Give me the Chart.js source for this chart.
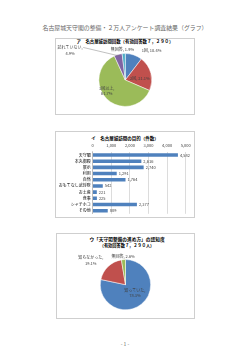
<!DOCTYPE html>
<html>
<head>
<meta charset="utf-8">
<script src="https://cdn.jsdelivr.net/npm/chart.js@4.4.0/dist/chart.umd.min.js"></script>
<style>
  body { margin: 0; background: #fff; }
  #page { position: relative; width: 250px; height: 353px; overflow: hidden; font-family: "Noto Sans CJK JP", sans-serif; }
  .box { position: absolute; border: 1px solid #cfcfcf; box-sizing: border-box; }
  canvas { position: absolute; }
  /* text is set at 10px and scaled down, the browser will not draw fonts under 6px */
  .t { position: absolute; white-space: nowrap; font-size: 10px; line-height: 1; color: #000; }
</style>
</head>
<body>
<div id="page">
  <div class="t" style="left:125px;top:28px;color:#666;transform:translate(-50%,-50%) scale(0.59)">名古屋城天守閣の整備・２万人アンケート調査結果（グラフ）</div>

  <div class="box" style="left:55px;top:38px;width:140px;height:77px"></div>
  <div class="t" style="left:125px;top:41px;font-weight:bold;transform:translate(-50%,-50%) scale(0.44)">ア　名古屋城訪問回数（有効回答数７，２９０）</div>
  <canvas id="visits" width="140" height="77" style="left:55px;top:38px"></canvas>

  <div class="box" style="left:55px;top:131px;width:140px;height:87px"></div>
  <div class="t" style="left:125px;top:137.5px;font-weight:bold;transform:translate(-50%,-50%) scale(0.45)">イ　名古屋城訪問の目的（件数）</div>
  <canvas id="purpose" width="140" height="87" style="left:55px;top:131px"></canvas>

  <div class="box" style="left:56px;top:233px;width:139px;height:86px"></div>
  <div class="t" style="left:127px;top:239px;font-weight:bold;transform:translate(-50%,-50%) scale(0.47)">ウ「天守閣整備の進め方」の認知度</div>
  <div class="t" style="left:127px;top:245px;font-weight:bold;transform:translate(-50%,-50%) scale(0.42)">（有効回答数７，２９０人）</div>
  <canvas id="aware" width="139" height="86" style="left:56px;top:233px"></canvas>

  <div class="t" style="left:125px;top:344px;color:#666;transform:translate(-50%,-50%) scale(0.5)">- 1 -</div>
</div>

<script>
// ア 訪問回数 (%)
const visitLabels = ['1回', '2回', '3回以上', '訪れていない', '無回答'];
const visitShares = [10.4, 21.1, 61.7, 4.9, 1.9];

// イ 訪問の目的 (件数)
const purposeLabels = ['天守閣', '本丸御殿', '展示', '利用', '自然', 'おもてなし武将隊', 'お土産', '食事', 'シャチホコ', 'その他'];
const purposeCounts = [4582, 2616, 2740, 1291, 1764, 542, 221, 225, 2377, 809];
const purposeTicks = [0, 1000, 2000, 3000, 4000, 5000];

// ウ 認知度 (%)
const awareLabels = ['知っていた', '知らなかった', '無回答'];
const awareShares = [78.3, 19.1, 2.6];

const JP = "'Noto Sans CJK JP', sans-serif";
const textColor = '#404040';

// small canvas text: draw at 10px and scale, returns drawn width
function tinyText(ctx, s, x, y, size, align, color) {
  const k = size / 10;
  ctx.save();
  ctx.translate(x, y);
  ctx.scale(k, k);
  ctx.font = '10px ' + JP;
  ctx.fillStyle = color || textColor;
  ctx.textAlign = align || 'center';
  ctx.textBaseline = 'middle';
  ctx.fillText(s, 0, 0);
  const w = ctx.measureText(s).width * k;
  ctx.restore();
  return w;
}

// pie labels drawn next to each slice (f = fraction of radius along mid angle)
const pieLabels = {
  id: 'pieLabels',
  afterDatasetsDraw(chart, args, opts) {
    const ctx = chart.ctx;
    const meta = chart.getDatasetMeta(0);
    const labels = chart.data.labels;
    const data = chart.data.datasets[0].data;
    meta.data.forEach((arc, i) => {
      const p = opts.place[i];
      const a = (arc.startAngle + arc.endAngle) / 2;
      const x = arc.x + Math.cos(a) * arc.outerRadius * p.f + (p.dx || 0);
      const y = arc.y + Math.sin(a) * arc.outerRadius * p.f + (p.dy || 0);
      const pct = data[i].toFixed(1) + '%';
      const lines = p.wrap ? [labels[i] + ',', pct] : [labels[i] + ', ' + pct];
      let w0 = 0;
      lines.forEach((s, k) => {
        const w = tinyText(ctx, s, x, y + (k - (lines.length - 1) / 2) * 5.6, 4);
        if (k === 0) w0 = w;
      });
      if (p.callout) {
        ctx.save();
        ctx.strokeStyle = '#808080';
        ctx.lineWidth = 0.5;
        ctx.beginPath();
        ctx.moveTo(x + w0 / 2 + 0.5, y - 2.8);
        ctx.lineTo(arc.x + Math.cos(a) * arc.outerRadius * 0.95, arc.y + Math.sin(a) * arc.outerRadius * 0.95);
        ctx.stroke();
        ctx.restore();
      }
    });
  }
};

// axis tick labels and value labels for the bar chart
const barText = {
  id: 'barText',
  afterDraw(chart) {
    const ctx = chart.ctx;
    const xs = chart.scales.x;
    const ys = chart.scales.y;
    const area = chart.chartArea;
    purposeTicks.forEach(v => {
      tinyText(ctx, v.toLocaleString('en-US'), xs.getPixelForValue(v), area.top - 6, 4);
    });
    chart.data.labels.forEach((lab, i) => {
      tinyText(ctx, lab, area.left - 2, ys.getPixelForValue(i), 4, 'right', '#000');
    });
    const meta = chart.getDatasetMeta(0);
    const data = chart.data.datasets[0].data;
    meta.data.forEach((bar, i) => {
      tinyText(ctx, data[i].toLocaleString('en-US'), bar.x + 2, bar.y, 4, 'left');
    });
  }
};

const pieBase = {
  responsive: false,
  animation: false,
  events: []
};

// renders ア
new Chart(document.getElementById('visits'), {
  type: 'pie',
  data: {
    labels: visitLabels,
    datasets: [{
      data: visitShares,
      backgroundColor: ['#4F81BD', '#C0504D', '#9BBB59', '#8064A2', '#4BACC6'],
      borderColor: '#fff',
      borderWidth: 0.5
    }]
  },
  options: {
    ...pieBase,
    layout: { padding: { left: 43.6, right: 43, top: 15.3, bottom: 8.3 } },
    plugins: {
      legend: { display: false },
      tooltip: { enabled: false },
      pieLabels: {
        place: [
          { f: 1.2, dx: 16, dy: 0.8 },
          { f: 0.57, dy: 1.8 },
          { f: 0.8, dx: -3.8, dy: -4.3, wrap: true },
          { f: 1.0, dx: -48, dy: -4.3, wrap: true, callout: true },
          { f: 1.16, dx: -1, dy: 0.4 }
        ]
      }
    }
  },
  plugins: [pieLabels]
});

// renders イ
new Chart(document.getElementById('purpose'), {
  type: 'bar',
  data: {
    labels: purposeLabels,
    datasets: [{
      data: purposeCounts,
      backgroundColor: '#4F81BD',
      categoryPercentage: 1,
      barPercentage: 0.58
    }]
  },
  options: {
    indexAxis: 'y',
    responsive: false,
    animation: false,
    events: [],
    layout: { padding: { top: 0, left: 0, right: 9.3, bottom: 4.2 } },
    plugins: { legend: { display: false }, tooltip: { enabled: false } },
    scales: {
      x: {
        position: 'top',
        min: purposeTicks[0],
        max: purposeTicks[purposeTicks.length - 1],
        afterBuildTicks: s => { s.ticks = purposeTicks.map(v => ({ value: v })); },
        ticks: { display: false },
        grid: { color: '#c4c4c4', lineWidth: 0.6, drawTicks: false },
        border: { display: false },
        afterFit: s => { s.height = 20.9; }
      },
      y: {
        ticks: { display: false },
        grid: { display: false },
        border: { color: '#a6a6a6', width: 0.6 },
        afterFit: s => { s.width = 37.7; }
      }
    }
  },
  plugins: [barText]
});

// renders ウ
new Chart(document.getElementById('aware'), {
  type: 'pie',
  data: {
    labels: awareLabels,
    datasets: [{
      data: awareShares,
      backgroundColor: ['#4F81BD', '#C0504D', '#9BBB59'],
      borderColor: '#fff',
      borderWidth: 0.5
    }]
  },
  options: {
    ...pieBase,
    layout: { padding: { left: 44.1, right: 44.1, top: 26.3, bottom: 8.9 } },
    plugins: {
      legend: { display: false },
      tooltip: { enabled: false },
      pieLabels: {
        place: [
          { f: 0.5, dx: 1.5, dy: -1.5, wrap: true },
          { f: 1.69, dx: -5.4, dy: 6.3, wrap: true },
          { f: 1.14 }
        ]
      }
    }
  },
  plugins: [pieLabels]
});
</script>
</body>
</html>
